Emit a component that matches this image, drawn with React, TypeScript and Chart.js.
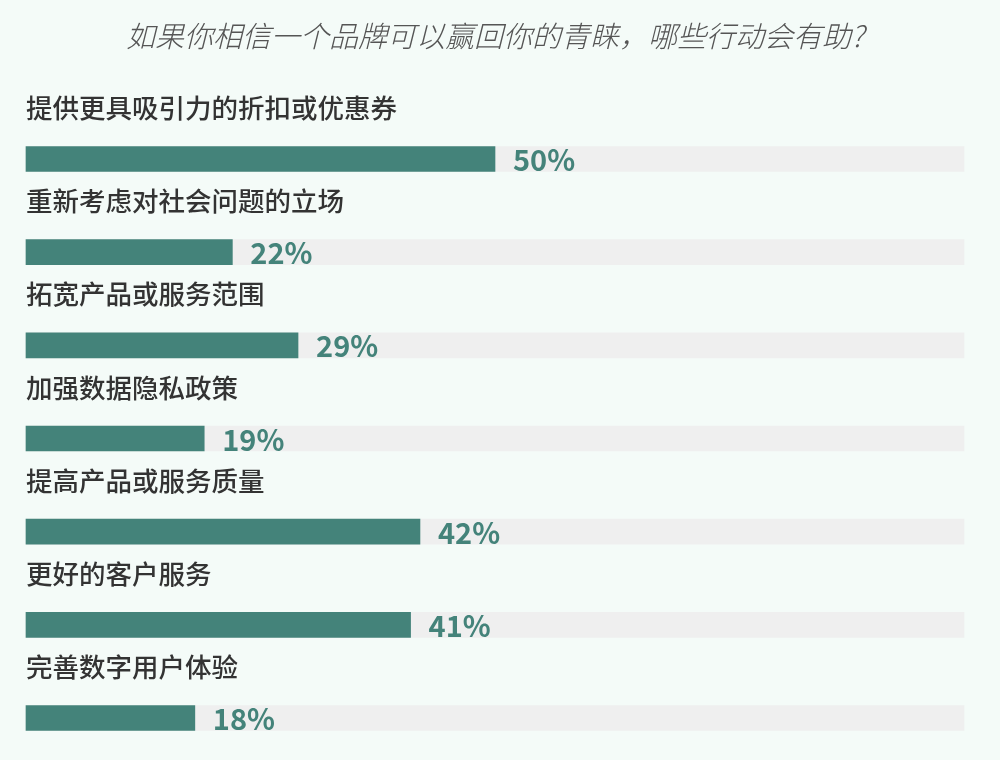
import React, { useEffect, useRef } from "react";
import { Chart, registerables } from "chart.js";

Chart.register(...registerables);

const title = "如果你相信一个品牌可以赢回你的青睐，哪些行动会有助?";
const categories = [
  "提供更具吸引力的折扣或优惠券",
  "重新考虑对社会问题的立场",
  "拓宽产品或服务范围",
  "加强数据隐私政策",
  "提高产品或服务质量",
  "更好的客户服务",
  "完善数字用户体验",
];
const values = [50, 22, 29, 19, 42, 41, 18];
const trackValues = [100, 100, 100, 100, 100, 100, 100];

const BG = "#f4fbf8";
const BAR = "#44837a";
const TRACK = "#efefef";
const CJK = '"Noto Sans CJK SC", "Noto Sans", sans-serif';

const labelPlugin = {
  id: "labelPlugin",
  afterDatasetsDraw(chart: any) {
    const ctx = chart.ctx;
    const meta = chart.getDatasetMeta(0);
    const area = chart.chartArea;
    ctx.save();
    meta.data.forEach((el: any, i: number) => {
      ctx.textAlign = "left";
      ctx.textBaseline = "middle";
      ctx.fillStyle = "#333333";
      ctx.font = `500 26.5px ${CJK}`;
      ctx.fillText(categories[i], area.left, el.y - 51);
      ctx.fillStyle = BAR;
      ctx.font = `bold 29px ${CJK}`;
      ctx.fillText(values[i] + "%", el.x + 18, el.y + 1);
    });
    ctx.restore();
  },
};

export default function App() {
  const ref = useRef<HTMLCanvasElement | null>(null);
  useEffect(() => {
    if (!ref.current) return;
    const chart = new Chart(ref.current, {
      type: "bar",
      data: {
        labels: categories,
        datasets: [
          {
            data: values,
            backgroundColor: BAR,
            barThickness: 25,
            grouped: false,
            order: 0,
            clip: false,
          } as any,
          {
            data: trackValues,
            backgroundColor: TRACK,
            barThickness: 25,
            grouped: false,
            order: 1,
            clip: false,
          } as any,
        ],
      },
      options: {
        indexAxis: "y",
        animation: false,
        responsive: false,
        layout: { padding: { left: 26, right: 36, top: 0, bottom: 42 } },
        scales: {
          x: { min: 0, max: 100, display: false },
          y: { type: "category", offset: false, display: false },
        },
        plugins: {
          legend: { display: false },
          tooltip: { enabled: false },
          title: {
            display: true,
            text: title,
            color: "#555555",
            font: { family: CJK, size: 29, style: "italic", weight: "300" as any, lineHeight: 1.2 },
            padding: { top: 18.6, bottom: 105.6 },
          },
        },
      },
      plugins: [labelPlugin],
    });
    return () => chart.destroy();
  }, []);
  return (
    <div style={{ position: "fixed", left: 0, top: 0, width: 1000, height: 760, background: BG }}>
      <canvas ref={ref} width={1000} height={760} style={{ display: "block" }} />
    </div>
  );
}
